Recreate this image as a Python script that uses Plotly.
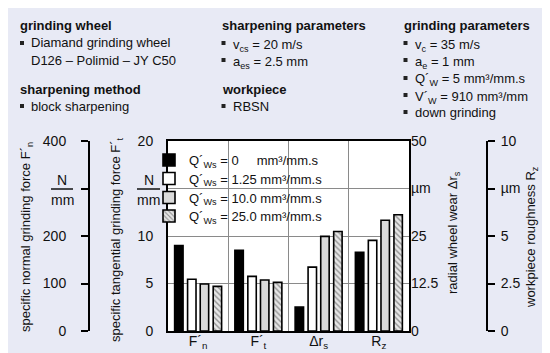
import plotly.graph_objects as go

# ---------------- data ----------------
categories = ["F´<sub>n</sub>", "F´<sub>t</sub>", "Δr<sub>s</sub>", "R<sub>z</sub>"]
series_names = [
    "Q´<sub>Ws</sub> = 0\u00a0\u00a0\u00a0\u00a0\u00a0mm³/mm.s",
    "Q´<sub>Ws</sub> = 1.25 mm³/mm.s",
    "Q´<sub>Ws</sub> = 10.0 mm³/mm.s",
    "Q´<sub>Ws</sub> = 25.0 mm³/mm.s",
]
Fn_values = [180, 109, 99, 94]          # N/mm, axis 0-400
Ft_values = [8.5, 5.75, 5.37, 5.12]     # N/mm, axis 0-20
dr_values = [6.3, 16.8, 24.9, 26.2]     # µm, axis 0-50
Rz_values = [4.14, 4.77, 5.83, 6.12]    # µm, axis 0-10

Fn_ticks = [0, 100, 200, 300, 400]
Fn_ticktext = ["0", "100", "200", "", "400"]
Ft_ticks = [0, 5, 10, 15, 20]
Ft_ticktext = ["0", "5", "10", "", "20"]
dr_ticks = [0, 12.5, 25, 37.5, 50]
dr_ticktext = ["0", "12.5", "25", "µm", "50"]
Rz_ticks = [0, 2.5, 5, 7.5, 10]
Rz_ticktext = ["0", "2.5", "5", "µm", "10"]

# ---------------- styles ----------------
FONT = "Liberation Sans, Arial, sans-serif"
W, H = 550, 353
PT, PB = 133, 323  # plot top / bottom px
PL, PR = 160, 401  # plot left / right px

def px(x):
    return x / W

def py(y):
    return (PB - y) / (PB - PT)

bar_styles = [
    dict(color="#000000"),
    dict(color="#ffffff"),
    dict(color="#dadada"),
    dict(color="#e6e6e6", pattern=dict(shape="\\", fgcolor="#404040", bgcolor="#e6e6e6", size=4, solidity=0.35)),
]
offsets = [-0.32, -0.105, 0.105, 0.32]
bar_w = 0.14
legend_ids = ["legend", "legend2", "legend3", "legend4"]
legend_y = [152, 170.5, 189.5, 208]

fig = go.Figure()

cat_data = [(Fn_values, "y2"), (Ft_values, "y"), (dr_values, "y3"), (Rz_values, "y4")]
for s in range(4):
    for c, (vals, yax) in enumerate(cat_data):
        st = bar_styles[s]
        marker = dict(color=st["color"], line=dict(color="#000000", width=1.6))
        if "pattern" in st:
            marker["pattern"] = st["pattern"]
        fig.add_trace(go.Bar(
            x=[categories[c]], y=[vals[s]], yaxis=yax,
            name=series_names[s], showlegend=(c == 0), legend=legend_ids[s],
            offset=offsets[s] - bar_w / 2, width=bar_w,
            marker=marker, hoverinfo="skip",
        ))

axis_font = dict(family=FONT, size=14, color="#111111")

legend_layout = {}
for lid, ly in zip(legend_ids, legend_y):
    legend_layout[lid] = dict(
        x=px(141), y=py(ly), xanchor="left", yanchor="middle", xref="paper", yref="paper",
        bgcolor="rgba(0,0,0,0)", borderwidth=0,
        font=dict(family=FONT, size=13, color="#111111"),
    )

fig.update_layout(
    width=W, height=H,
    margin=dict(l=0, r=0, t=PT, b=H - PB, autoexpand=False),
    paper_bgcolor="#e8eaf5",
    plot_bgcolor="#ffffff",
    font=dict(family=FONT, size=13, color="#111111"),
    barmode="overlay",
    showlegend=True,
    **legend_layout,
    xaxis=dict(
        domain=[px(PL), px(PR)], type="category",
        categoryorder="array", categoryarray=categories,
        range=[-0.5, 3.5],
        showline=True, linewidth=2, linecolor="#000000", mirror=True,
        ticks="", tickson="boundaries", showgrid=True, gridcolor="#8a8a8a", gridwidth=1,
        tickfont=axis_font, ticklabelstandoff=-4,
    ),
    yaxis=dict(
        range=[0, 20], tickvals=Ft_ticks, ticktext=Ft_ticktext,
        showline=True, linewidth=2, linecolor="#000000", mirror=True,
        ticks="", showgrid=True, gridcolor="#8a8a8a", gridwidth=1, zeroline=False,
        tickfont=axis_font, ticklabelstandoff=10,
    ),
    yaxis2=dict(
        range=[0, 400], tickvals=Fn_ticks, ticktext=Fn_ticktext,
        overlaying="y", anchor="free", position=px(81), side="left",
        showline=True, linewidth=2, linecolor="#000000",
        ticks="outside", ticklen=7, tickwidth=2, tickcolor="#000000",
        showgrid=False, zeroline=False, tickfont=axis_font, ticklabelstandoff=12,
    ),
    yaxis3=dict(
        range=[0, 50], tickvals=dr_ticks, ticktext=dr_ticktext,
        overlaying="y", anchor="x", side="right",
        showline=False, ticks="", showgrid=False, zeroline=False,
        tickfont=axis_font, ticklabelstandoff=1,
    ),
    yaxis4=dict(
        range=[0, 10], tickvals=Rz_ticks, ticktext=Rz_ticktext,
        overlaying="y", anchor="free", position=px(479), side="right",
        showline=True, linewidth=2, linecolor="#000000",
        ticks="outside", ticklen=7, tickwidth=2, tickcolor="#000000",
        showgrid=False, zeroline=False, tickfont=axis_font, ticklabelstandoff=3,
    ),
)

shapes = []
annotations = []

# white panel behind legend (hides gridlines there)
shapes.append(dict(type="rect", xref="paper", yref="paper", layer="between",
                   x0=px(161), x1=px(360), y0=py(218), y1=py(134),
                   fillcolor="#ffffff", line=dict(width=0)))

def text(x, y, t, size=13, anchor="left", angle=0, yanchor="middle"):
    annotations.append(dict(x=px(x), y=py(y), xref="paper", yref="paper", text=t,
                            showarrow=False, xanchor=anchor, yanchor=yanchor, textangle=angle,
                            font=dict(family=FONT, size=size, color="#111111")))

def bullet(x, y):
    shapes.append(dict(type="rect", xref="paper", yref="paper",
                       x0=px(x), x1=px(x + 4), y0=py(y + 2), y1=py(y - 2),
                       fillcolor="#222222", line=dict(width=0)))

# header blocks
header = [
    (10, [("h", 18, "grinding wheel"), ("b", 35, "Diamand grinding wheel"),
          ("t", 52, "D126 – Polimid – JY C50"), ("h", 81, "sharpening method"),
          ("b", 98, "block sharpening")]),
    (211.5, [("h", 18, "sharpening parameters"), ("b", 35, "v<sub>cs</sub> = 20 m/s"),
             ("b", 52, "a<sub>es</sub> = 2.5 mm"), ("h", 81, "workpiece"),
             ("b", 98, "RBSN")]),
    (393.5, [("h", 18, "grinding parameters"), ("b", 35, "v<sub>c</sub> = 35 m/s"),
             ("b", 52, "a<sub>e</sub> = 1 mm"), ("b", 70, "Q´<sub>W</sub> = 5 mm³/mm.s"),
             ("b", 87, "V´<sub>W</sub> = 910 mm³/mm"), ("b", 104, "down grinding")]),
]
for hx, lines in header:
    for kind, yy, t in lines:
        if kind == "h":
            text(hx, yy, "<b>" + t + "</b>")
        else:
            if kind == "b":
                bullet(hx + 2, yy)
            text(hx + 11, yy + (2 if "<sub>" in t else 0), t)

# axis titles
text(18, 229, "specific normal grinding force F´<sub>n</sub>", anchor="center", angle=-90)
text(108, 232, "specific tangential grinding force F´<sub>t</sub>", anchor="center", angle=-90)
text(445, 225, "radial wheel wear Δr<sub>s</sub>", anchor="center", angle=-90)
text(523, 229, "workpiece roughness R<sub>z</sub>", anchor="center", angle=-90)

# N/mm fractions
for cx, x0, x1 in [(54, 43, 65), (140.5, 129, 152)]:
    text(cx, 172, "N", size=14, anchor="center")
    text(cx, 192, "mm", size=14, anchor="center")
    shapes.append(dict(type="line", xref="paper", yref="paper",
                       x0=px(x0), x1=px(x1), y0=py(181), y1=py(181),
                       line=dict(color="#111111", width=1.5)))

fig.update_layout(shapes=shapes, annotations=annotations)
fig.write_html("out.html")
